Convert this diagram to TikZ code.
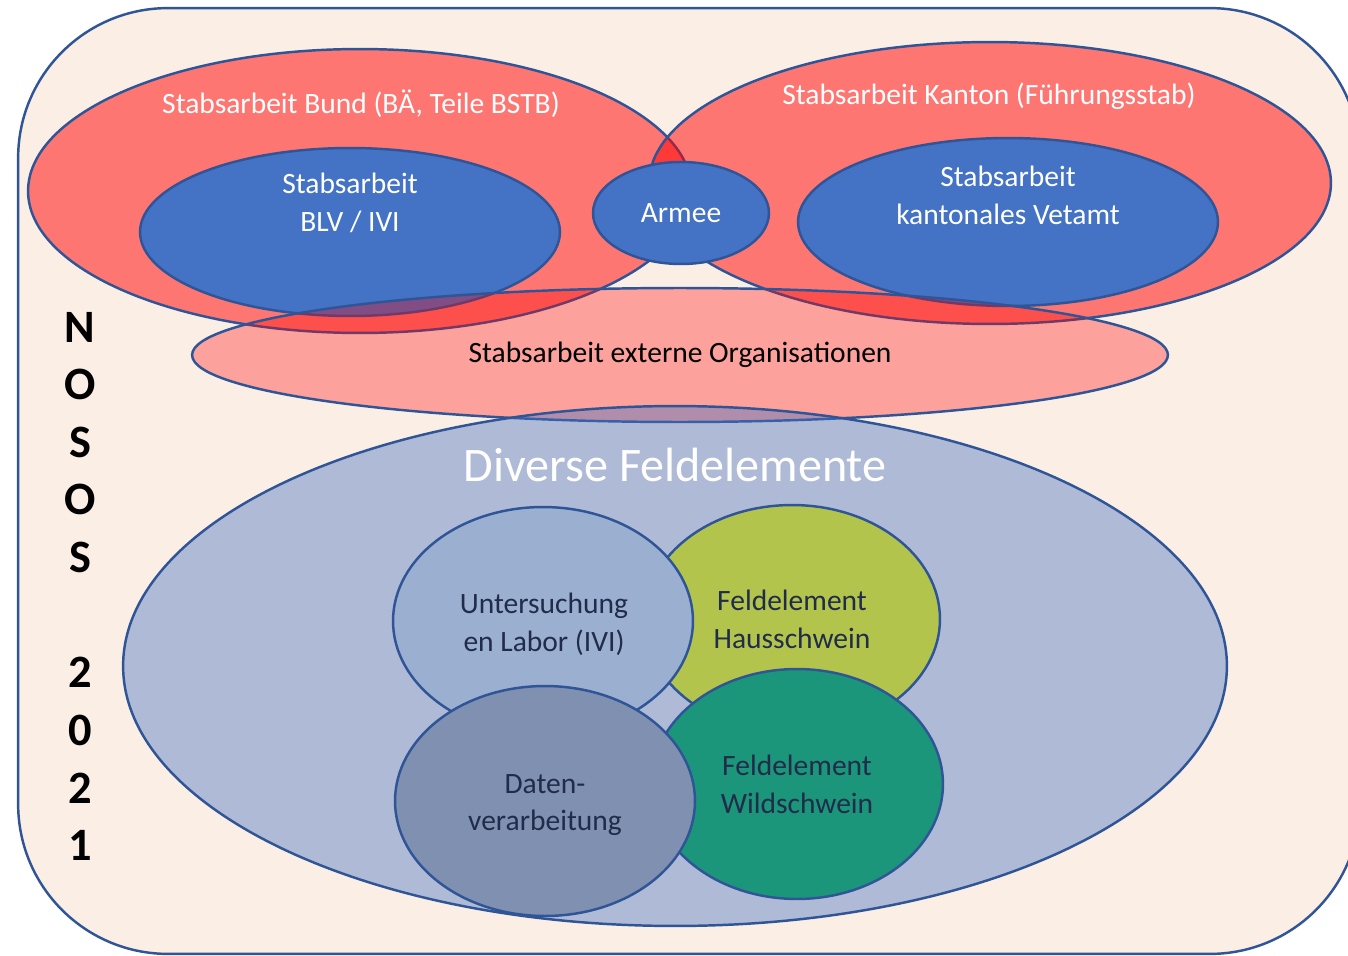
\documentclass[tikz,border=0pt]{standalone}
\usepackage{fontspec}
\setmainfont{Carlito}
\usetikzlibrary{shapes,positioning}
\definecolor{cream}{RGB}{251,238,229}
\definecolor{edgeblue}{RGB}{47,85,151}
\definecolor{accentblue}{RGB}{68,114,196}
\definecolor{laborblue}{RGB}{155,175,209}
\definecolor{datenblue}{RGB}{127,144,177}
\definecolor{hausgreen}{RGB}{179,196,77}
\definecolor{wildgreen}{RGB}{27,150,122}
\definecolor{navytext}{RGB}{32,44,74}

\begin{document}
\begin{tikzpicture}[x=0.02cm, y=-0.02cm,
    every node/.style={font=\fontsize{16.8}{21.5}\selectfont},
    blob/.style={ellipse, draw=edgeblue, line width=1.4pt, inner sep=0pt, align=center},
    stab/.style={blob, fill=red, fill opacity=0.5},
    kern/.style={blob, fill=accentblue, text=white},
    feld/.style={blob, text=navytext}]
    \useasboundingbox (0,0) rectangle (1348,956);
    \clip (0,0) rectangle (1348,956);

    % Rahmen
    \node[draw=edgeblue, line width=1.4pt, fill=cream, rounded corners=3cm,
          minimum width=26.84cm, minimum height=18.92cm] (frame) at (689,481) {};

    % Stabsarbeit oben
    \node[stab, minimum width=13.28cm, minimum height=5.68cm] (bund) at (360,191) {};
    \node[stab, minimum width=13.64cm, minimum height=5.64cm] (kanton) at (990,183) {};
    \node[text=white] (bundlabel) at (361,104) {Stabsarbeit Bund (BÄ, Teile BSTB)};
    \node[text=white] (kantonlabel) at (989,96) {Stabsarbeit Kanton (Führungsstab)};

    \node[kern, minimum width=8.4cm, minimum height=3.36cm] (blv) at (350,232) {};
    \node[kern, minimum width=8.4cm, minimum height=3.36cm] (vetamt) at (1008,222) {};
    \node[kern, minimum width=3.52cm, minimum height=2.04cm] (armee) at (681,213) {Armee};
    \node[text=white, align=center] (blvtext) at (350,203) {Stabsarbeit\\BLV / IVI};
    \node[text=white, align=center] (vetamttext) at (1008,195) {Stabsarbeit\\kantonales Vetamt};

    \node[blob, fill=red, fill opacity=0.32, text opacity=1,
          minimum width=19.52cm, minimum height=2.68cm] (extern) at (680,355) {Stabsarbeit externe Organisationen};

    % Feldelemente
    \node[blob, fill=accentblue, fill opacity=0.41,
          minimum width=22.08cm, minimum height=10.4cm] (diverse) at (675,666) {};
    \node[text=white, font=\fontsize{27.4}{32}\selectfont] (diverselabel) at (675,465) {Diverse Feldelemente};

    \node[feld, fill=hausgreen, minimum width=5.92cm, minimum height=4.56cm] (haus) at (792,619) {Feldelement\\Hausschwein};
    \node[feld, fill=wildgreen, minimum width=5.84cm, minimum height=4.6cm] (wild) at (797,784) {Feldelement\\Wildschwein};
    \node[feld, fill=laborblue, minimum width=6cm, minimum height=4.56cm] (labor) at (543,621) {};
    \node[feld, fill=datenblue, minimum width=6cm, minimum height=4.6cm] (daten) at (545,801) {};
    \node[text=navytext, align=center] (labortext) at (544,624) {Untersuchung\\en Labor (IVI)};
    \node[text=navytext, align=center] (datentext) at (545,805) {Daten-\\verarbeitung};

    % NOSOS 2021
    \foreach \ch [count=\i] in {N,O,S,O,S,{},2,0,2,1}
        \node[font=\fontsize{26.4}{30}\selectfont\bfseries] (nosos\i) at (80,{327+57.6*(\i-1)}) {\ch};
\end{tikzpicture}
\end{document}
